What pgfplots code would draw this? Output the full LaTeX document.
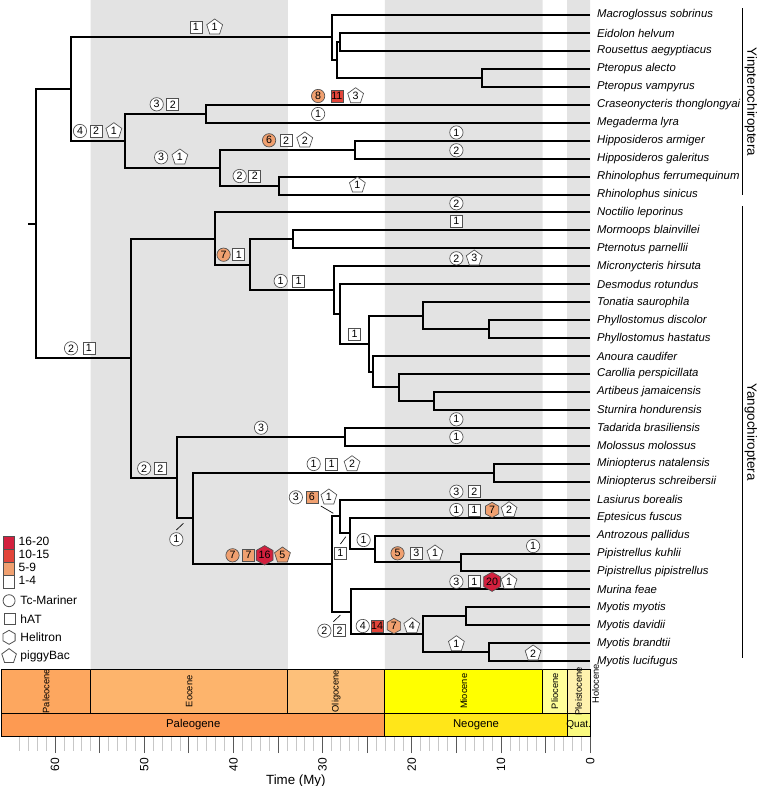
\documentclass[border=0pt]{standalone}
\usepackage{fontspec}
\setmainfont{Liberation Sans}
\usepackage{pgfplots}
\pgfplotsset{compat=1.18}
\usepackage{pgfplotstable}
\usetikzlibrary{shapes.geometric}

\definecolor{band}{HTML}{E3E3E3}
\definecolor{cOr}{HTML}{F0A070}
\definecolor{cRed}{HTML}{E2453A}
\definecolor{cCr}{HTML}{D3203E}
\definecolor{symd}{HTML}{505050}
\definecolor{paleocene}{HTML}{FDA75F}
\definecolor{eocene}{HTML}{FDB46C}
\definecolor{oligocene}{HTML}{FDC07A}
\definecolor{miocene}{HTML}{FFFF00}
\definecolor{pliocene}{HTML}{FFFF99}
\definecolor{pleistocene}{HTML}{FFF2AE}
\definecolor{holocene}{HTML}{FEF2E0}
\definecolor{paleogene}{HTML}{FD9A52}
\definecolor{neogene}{HTML}{FFE619}
\definecolor{quaternary}{HTML}{F9F97F}

\pgfplotsset{
  sym/.style={only marks, mark=none, point meta=explicit symbolic, nodes near coords,
    every node near coord/.append style={anchor=center, inner sep=0pt, draw=symd, line width=0.5pt, text=black, font=\fontsize{8}{8}\selectfont}},
  tc/.style={sym, every node near coord/.append style={circle, minimum size=10pt, fill=#1}},
  hat/.style={sym, every node near coord/.append style={rectangle, minimum size=9pt, fill=#1}},
  heli/.style={sym, every node near coord/.append style={regular polygon, regular polygon sides=6, shape border rotate=30, minimum size=11.5pt, fill=#1}},
  pig/.style={sym, every node near coord/.append style={regular polygon, regular polygon sides=5, minimum size=12.5pt, fill=#1}},
}

\pgfplotstableread[col sep=comma]{
t,y,name
0,15.00,Macroglossus sobrinus
0,32.95,Eidolon helvum
0,50.90,Rousettus aegyptiacus
0,68.85,Pteropus alecto
0,86.80,Pteropus vampyrus
0,104.75,Craseonycteris thonglongyai
0,122.70,Megaderma lyra
0,140.65,Hipposideros armiger
0,158.60,Hipposideros galeritus
0,176.55,Rhinolophus ferrumequinum
0,194.50,Rhinolophus sinicus
0,212.45,Noctilio leporinus
0,230.40,Mormoops blainvillei
0,248.35,Pternotus parnellii
0,266.30,Micronycteris hirsuta
0,284.25,Desmodus rotundus
0,302.20,Tonatia saurophila
0,320.15,Phyllostomus discolor
0,338.10,Phyllostomus hastatus
0,356.05,Anoura caudifer
0,374.00,Carollia perspicillata
0,391.95,Artibeus jamaicensis
0,409.90,Sturnira hondurensis
0,427.85,Tadarida brasiliensis
0,445.80,Molossus molossus
0,463.75,Miniopterus natalensis
0,481.70,Miniopterus schreibersii
0,499.65,Lasiurus borealis
0,517.60,Eptesicus fuscus
0,535.55,Antrozous pallidus
0,553.50,Pipistrellus kuhlii
0,571.45,Pipistrellus pipistrellus
0,589.40,Murina feae
0,607.35,Myotis myotis
0,625.30,Myotis davidii
0,643.25,Myotis brandtii
0,661.20,Myotis lucifugus
}\taxa

\pgfplotstableread{
x y n
57.2 131 4
48.6 104.3 3
48.1 157.3 3
39.3 176 2
30.5 114 1
15.0 132.5 1
15.0 150.3 2
15.0 203.3 2
15.0 258.3 2
15.0 419.3 1
15.0 437 1
58.2 348.3 2
34.7 281 1
36.9 427.7 3
50.0 468.3 2
31.0 464 1
33.0 497.3 3
46.4 539.3 1
25.4 540 1
29.8 630.7 2
25.5 626 4
15.0 491.7 3
15.0 510 1
6.4 546 1
15.0 581.7 3
}\tcwhite

\pgfplotstableread{
x y n
30.5 96 8
36.0 140.3 6
41.1 254.7 7
40.1 555.3 7
21.6 553.3 5
}\tcorange

\pgfplotstableread{
x y n
44.2 27.3 1
46.8 104.3 2
55.4 131 2
34.1 140.3 2
37.6 176 2
15.0 221 1
39.4 254.7 1
32.7 281 1
26.4 334.3 1
56.2 348.3 1
48.2 468.3 2
29.0 464 1
28.0 553.3 1
28.1 630.7 2
13.0 491.7 2
13.0 510 1
19.5 553.3 3
13.0 581.7 1
}\hatwhite

\pgfplotstableread{
x y n
31.2 497.3 6
38.3 555.3 7
}\hatorange

\pgfplotstableread{
x y n
28.4 96 11
23.9 626 14
}\hatred

\pgfplotstableread{
x y n
22.0 626 7
11.0 510 7
}\heliorange

\pgfplotstableread{
x y n
36.5 555.3 16
11.0 581.7 20
}\helicrimson

\pgfplotstableread{
x y n
42.1 27.3 1
26.3 96 3
53.4 131 1
46.0 157.3 1
32.0 140.3 2
26.1 185.3 1
13.0 258.3 3
26.7 464 2
29.3 497.3 1
20.0 626 4
9.1 510 2
17.4 553.3 1
9.1 581.7 1
15.0 644 1
6.4 653.3 2
}\pigwhite

\pgfplotstableread{
x y n
34.5 555.3 5
}\pigorange

\begin{document}
\begin{tikzpicture}
\path[use as bounding box] (-1.125pt,-37.5pt) rectangle (566.625pt,552pt);
\begin{axis}[
  scale only axis, width=441.525pt, height=552pt,
  xmin=0, xmax=66, ymin=0, ymax=736,
  x dir=reverse, y dir=reverse,
  enlargelimits=false, clip=false,
  axis line style={draw=none},
  ytick=\empty,
  xtick={0,5,...,60},
  xticklabels={0,,10,,20,,30,,40,,50,,60},
  minor xtick={1,2,3,4,6,7,8,9,11,12,13,14,16,17,18,19,21,22,23,24,26,27,28,29,31,32,33,34,36,37,38,39,41,42,43,44,46,47,48,49,51,52,53,54,56,57,58,59,61,62,63,64},
  xtick pos=bottom,
  tick align=outside,
  major tick length=12.75pt,
  minor tick length=11pt,
  major tick style={black!65, line width=0.6pt},
  minor tick style={black!22, line width=0.5pt},
  /pgf/number format/assume math mode=true,
  xticklabel style={rotate=90, anchor=east, font=\fontsize{9}{10}\selectfont},
  xlabel={Time (My)},
  xlabel style={font=\fontsize{10}{11}\selectfont, yshift=4pt},
  unbounded coords=jump,
]
% grey bands
\addplot[fill=band, draw=none] coordinates {(56,0) (33.9,0) (33.9,669.5) (56,669.5) (56,0)};
\addplot[fill=band, draw=none] coordinates {(23.03,0) (5.333,0) (5.333,669.5) (23.03,669.5) (23.03,0)};
\addplot[fill=band, draw=none] coordinates {(2.58,0) (0.0117,0) (0.0117,669.5) (2.58,669.5) (2.58,0)};

% timescale epochs
\addplot[fill=paleocene, draw=black, line width=0.6pt] coordinates {(66,669.5) (56,669.5) (56,713) (66,713) (66,669.5)};
\addplot[fill=eocene, draw=black, line width=0.6pt] coordinates {(56,669.5) (33.9,669.5) (33.9,713) (56,713) (56,669.5)};
\addplot[fill=oligocene, draw=black, line width=0.6pt] coordinates {(33.9,669.5) (23.03,669.5) (23.03,713) (33.9,713) (33.9,669.5)};
\addplot[fill=miocene, draw=black, line width=0.6pt] coordinates {(23.03,669.5) (5.333,669.5) (5.333,713) (23.03,713) (23.03,669.5)};
\addplot[fill=pliocene, draw=black, line width=0.6pt] coordinates {(5.333,669.5) (2.58,669.5) (2.58,713) (5.333,713) (5.333,669.5)};
\addplot[fill=pleistocene, draw=black, line width=0.6pt] coordinates {(2.58,669.5) (0.0117,669.5) (0.0117,713) (2.58,713) (2.58,669.5)};
\addplot[fill=holocene, draw=black, line width=0.6pt] coordinates {(0.0117,669.5) (0,669.5) (0,713) (0.0117,713) (0.0117,669.5)};
% periods
\addplot[fill=paleogene, draw=black, line width=0.6pt] coordinates {(66,713) (23.03,713) (23.03,736) (66,736) (66,713)};
\addplot[fill=neogene, draw=black, line width=0.6pt] coordinates {(23.03,713) (2.58,713) (2.58,736) (23.03,736) (23.03,713)};
\addplot[fill=quaternary, draw=black, line width=0.6pt] coordinates {(2.58,713) (0,713) (0,736) (2.58,736) (2.58,713)};

\node[rotate=90, font=\fontsize{7}{7}\selectfont] at (axis cs:61,691.25) {Paleocene};
\node[rotate=90, font=\fontsize{7}{7}\selectfont] at (axis cs:44.95,691.25) {Eocene};
\node[rotate=90, font=\fontsize{7}{7}\selectfont] at (axis cs:28.47,691.25) {Oligocene};
\node[rotate=90, font=\fontsize{7}{7}\selectfont] at (axis cs:14.18,691.25) {Miocene};
\node[rotate=90, font=\fontsize{7}{7}\selectfont] at (axis cs:3.96,691.25) {Pliocene};
\node[rotate=90, font=\fontsize{7}{7}\selectfont] at (axis cs:1.3,691.25) {Pleistocene};
\node[rotate=90, font=\fontsize{7}{7}\selectfont] at (axis cs:-0.6,684) {Holocene};
\node[font=\fontsize{8.5}{9}\selectfont] at (axis cs:44.5,724.5) {Paleogene};
\node[font=\fontsize{8.5}{9}\selectfont] at (axis cs:12.8,724.5) {Neogene};
\node[font=\fontsize{7.5}{8}\selectfont, inner sep=0pt] at (axis cs:1.29,724.5) {Quat.};

% tree
\addplot[black, line width=1.5pt, line join=miter] coordinates {
(63.0,223.58) (62.1,223.58) (0,nan)
(58.2,89.04) (62.1,89.04) (62.1,358.11) (51.5,358.11) (0,nan)
(28.9,37.44) (58.2,37.44) (58.2,140.65) (52.1,140.65) (0,nan)
(0,15.00) (28.9,15.00) (28.9,59.88) (28.4,59.88) (0,nan)
(28.0,41.93) (28.4,41.93) (28.4,77.83) (12.1,77.83) (0,nan)
(0,32.95) (28.0,32.95) (28.0,50.90) (0,50.90) (0,nan)
(0,68.85) (12.1,68.85) (12.1,86.80) (0,86.80) (0,nan)
(43.1,113.73) (52.1,113.73) (52.1,167.58) (41.5,167.58) (0,nan)
(0,104.75) (43.1,104.75) (43.1,122.70) (0,122.70) (0,nan)
(26.4,149.63) (41.5,149.63) (41.5,185.53) (34.9,185.53) (0,nan)
(0,140.65) (26.4,140.65) (26.4,158.60) (0,158.60) (0,nan)
(0,176.55) (34.9,176.55) (34.9,194.50) (0,194.50) (0,nan)
(42.1,238.60) (51.5,238.60) (51.5,477.63) (46.3,477.63) (0,nan)
(0,212.45) (42.1,212.45) (42.1,264.76) (38.1,264.76) (0,nan)
(33.3,239.38) (38.1,239.38) (38.1,290.14) (28.7,290.14) (0,nan)
(0,230.40) (33.3,230.40) (33.3,248.35) (0,248.35) (0,nan)
(0,266.30) (28.7,266.30) (28.7,313.98) (28.0,313.98) (0,nan)
(0,284.25) (28.0,284.25) (28.0,343.71) (24.8,343.71) (0,nan)
(18.7,315.66) (24.8,315.66) (24.8,371.76) (24.4,371.76) (0,nan)
(0,302.20) (18.7,302.20) (18.7,329.13) (11.4,329.13) (0,nan)
(0,320.15) (11.4,320.15) (11.4,338.10) (0,338.10) (0,nan)
(0,356.05) (24.4,356.05) (24.4,387.46) (21.4,387.46) (0,nan)
(0,374.00) (21.4,374.00) (21.4,400.93) (17.5,400.93) (0,nan)
(0,391.95) (17.5,391.95) (17.5,409.90) (0,409.90) (0,nan)
(27.5,436.83) (46.3,436.83) (46.3,518.44) (44.5,518.44) (0,nan)
(0,427.85) (27.5,427.85) (27.5,445.80) (0,445.80) (0,nan)
(10.8,472.73) (44.5,472.73) (44.5,564.16) (29.0,564.16) (0,nan)
(0,463.75) (10.8,463.75) (10.8,481.70) (0,481.70) (0,nan)
(28.1,516.48) (29.0,516.48) (29.0,611.84) (26.8,611.84) (0,nan)
(0,499.65) (28.1,499.65) (28.1,533.31) (26.9,533.31) (0,nan)
(0,517.60) (26.9,517.60) (26.9,549.01) (24.1,549.01) (0,nan)
(0,535.55) (24.1,535.55) (24.1,562.48) (14.5,562.48) (0,nan)
(0,553.50) (14.5,553.50) (14.5,571.45) (0,571.45) (0,nan)
(0,589.40) (26.8,589.40) (26.8,634.28) (18.7,634.28) (0,nan)
(13.9,616.33) (18.7,616.33) (18.7,652.23) (11.3,652.23) (0,nan)
(0,607.35) (13.9,607.35) (13.9,625.30) (0,625.30) (0,nan)
(0,643.25) (11.3,643.25) (11.3,661.20) (0,661.20)
};

% leader lines
\addplot[black, line width=0.5pt] coordinates {
(30.2,506) (28.8,513.3) (0,nan)
(46.4,530) (45.6,523.3) (0,nan)
(28.0,544) (27.4,536.7) (0,nan)
(28.8,621.7) (28.0,615)
};

% taxon names
\addplot[only marks, mark=none, point meta=explicit symbolic, nodes near coords,
  every node near coord/.append style={anchor=west, inner sep=0pt, xshift=5pt, font=\fontsize{8.5}{9}\selectfont\itshape}]
  table[x=t, y=y, meta=name] {\taxa};

% TE symbols
\addplot[tc=white] table[x=x, y=y, meta=n] {\tcwhite};
\addplot[tc=cOr] table[x=x, y=y, meta=n] {\tcorange};
\addplot[hat=white] table[x=x, y=y, meta=n] {\hatwhite};
\addplot[hat=cOr] table[x=x, y=y, meta=n] {\hatorange};
\addplot[hat=cRed] table[x=x, y=y, meta=n] {\hatred};
\addplot[heli=cOr] table[x=x, y=y, meta=n] {\heliorange};
\addplot[heli=cCr] table[x=x, y=y, meta=n] {\helicrimson};
\addplot[pig=white] table[x=x, y=y, meta=n] {\pigwhite};
\addplot[pig=cOr] table[x=x, y=y, meta=n] {\pigorange};

% clade bars
\draw[line width=0.8pt] (axis cs:-17.1,8.3) -- (axis cs:-17.1,195);
\draw[line width=0.8pt] (axis cs:-17.1,206) -- (axis cs:-17.1,658);
\node[rotate=-90, font=\fontsize{10}{12}\selectfont] at (axis cs:-18.0,102) {Yinpterochiroptera};
\node[rotate=-90, font=\fontsize{10}{12}\selectfont] at (axis cs:-18.0,432) {Yangochiroptera};

% legend
\draw[fill=cCr, draw=symd, line width=0.5pt] (axis cs:65.83,536) rectangle (axis cs:64.6,549);
\draw[fill=cRed, draw=symd, line width=0.5pt] (axis cs:65.83,549) rectangle (axis cs:64.6,562);
\draw[fill=cOr, draw=symd, line width=0.5pt] (axis cs:65.83,562) rectangle (axis cs:64.6,575);
\draw[fill=white, draw=symd, line width=0.5pt] (axis cs:65.83,575) rectangle (axis cs:64.6,588);
\node[anchor=west, inner sep=0pt, font=\fontsize{9}{10}\selectfont] at (axis cs:64.1,541.5) {16-20};
\node[anchor=west, inner sep=0pt, font=\fontsize{9}{10}\selectfont] at (axis cs:64.1,554.5) {10-15};
\node[anchor=west, inner sep=0pt, font=\fontsize{9}{10}\selectfont] at (axis cs:64.1,567.5) {5-9};
\node[anchor=west, inner sep=0pt, font=\fontsize{9}{10}\selectfont] at (axis cs:64.1,580.5) {1-4};
\node[circle, draw=symd, line width=0.6pt, minimum size=9pt, inner sep=0pt] at (axis cs:65.15,600.7) {};
\node[rectangle, draw=symd, line width=0.6pt, minimum size=8.3pt, inner sep=0pt] at (axis cs:65.1,619.3) {};
\node[regular polygon, regular polygon sides=6, shape border rotate=30, draw=symd, line width=0.6pt, minimum size=10.5pt, inner sep=0pt] at (axis cs:65.15,637.3) {};
\node[regular polygon, regular polygon sides=5, draw=symd, line width=0.6pt, minimum size=11.5pt, inner sep=0pt] at (axis cs:65.15,656.3) {};
\node[anchor=west, inner sep=0pt, font=\fontsize{9}{10}\selectfont] at (axis cs:63.9,600.7) {Tc-Mariner};
\node[anchor=west, inner sep=0pt, font=\fontsize{9}{10}\selectfont] at (axis cs:63.9,619.3) {hAT};
\node[anchor=west, inner sep=0pt, font=\fontsize{9}{10}\selectfont] at (axis cs:63.9,637.3) {Helitron};
\node[anchor=west, inner sep=0pt, font=\fontsize{9}{10}\selectfont] at (axis cs:63.9,656.3) {piggyBac};
\end{axis}
\end{tikzpicture}
\end{document}
